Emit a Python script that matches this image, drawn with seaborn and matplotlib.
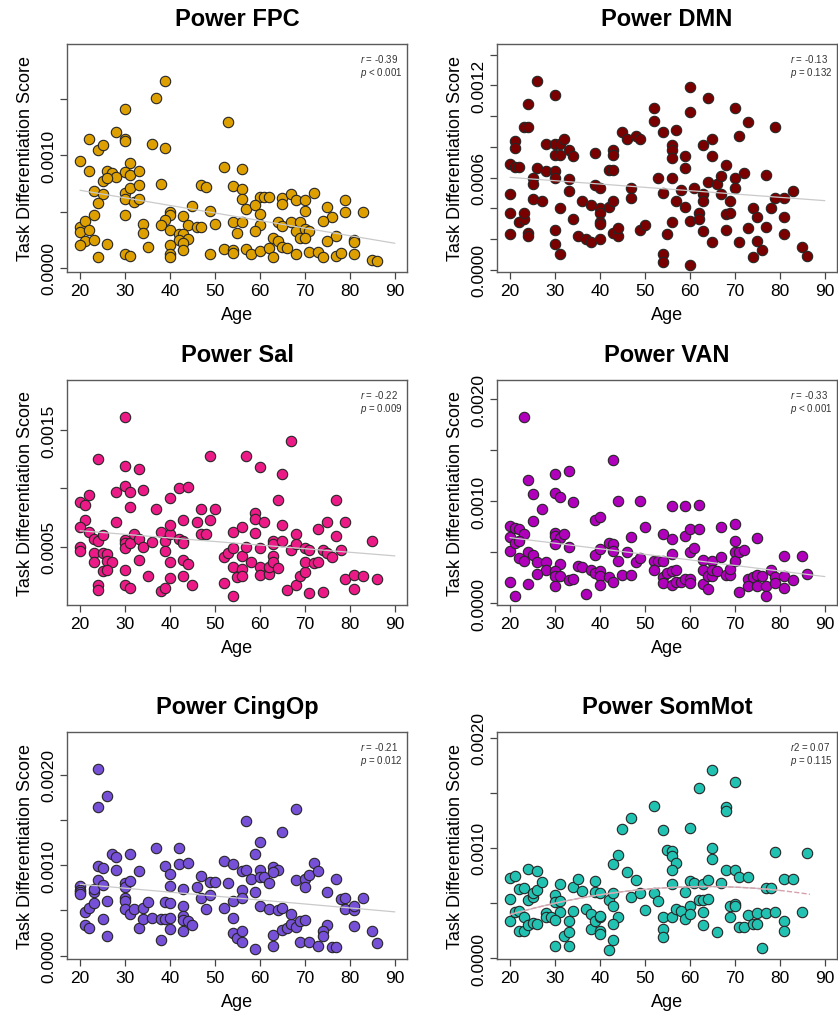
import numpy as np
import matplotlib
matplotlib.use('Agg')
import matplotlib.pyplot as plt
import seaborn as sns

sns.set_style('ticks')
plt.rcParams['font.family'] = ['Liberation Sans', 'DejaVu Sans']
plt.rcParams['mathtext.fontset'] = 'custom'
plt.rcParams['mathtext.it'] = 'Liberation Sans:italic'
plt.rcParams['mathtext.rm'] = 'Liberation Sans'
plt.rcParams['text.color'] = 'black'
plt.rcParams['axes.labelcolor'] = 'black'
plt.rcParams['xtick.labelcolor'] = 'black'
plt.rcParams['ytick.labelcolor'] = 'black'

##################################################################
# (age, task differentiation score)
fpc = [(20, 0.00095), (22, 0.00115), (22, 0.00086), (24, 0.00105), (25, 0.00109), (30, 0.00141),
       (30, 0.00115), (30, 0.00113), (28, 0.00121), (37, 0.00151), (39, 0.00166), (36, 0.00110),
       (39, 0.00107), (53, 0.00130), (31, 0.00093), (30, 0.00085), (31, 0.00083), (33, 0.00086),
       (26, 0.00086), (27, 0.00084), (28, 0.00081), (25, 0.00077), (26, 0.00080), (23, 0.00068),
       (25, 0.00066), (24, 0.00058), (23, 0.00047), (30, 0.00067), (31, 0.00071), (33, 0.00074),
       (30, 0.00061), (32, 0.00059), (33, 0.00061), (30, 0.00047), (38, 0.00075), (52, 0.00090),
       (56, 0.00088), (47, 0.00074), (48, 0.00072), (54, 0.00073), (56, 0.00070), (56, 0.00061),
       (57, 0.00052), (60, 0.00063), (61, 0.00063), (62, 0.00063), (59, 0.00056), (60, 0.00048),
       (65, 0.00062), (65, 0.00057), (67, 0.00066), (68, 0.00060), (70, 0.00060), (72, 0.00067),
       (70, 0.00051), (75, 0.00054), (76, 0.00045), (74, 0.00042), (79, 0.00060), (79, 0.00050),
       (83, 0.00050), (45, 0.00055), (49, 0.00051), (40, 0.00050), (40, 0.00047), (39, 0.00043),
       (38, 0.00038), (43, 0.00046), (44, 0.00038), (46, 0.00036), (47, 0.00036), (50, 0.00039),
       (40, 0.00034), (34, 0.00039), (34, 0.00031), (42, 0.00030), (43, 0.00030), (42, 0.00025),
       (44, 0.00026), (43, 0.00022), (43, 0.00016), (40, 0.00020), (40, 0.00012), (40, 0.00010),
       (54, 0.00041), (56, 0.00041), (55, 0.00031), (60, 0.00038), (59, 0.00033), (64, 0.00041),
       (65, 0.00037), (67, 0.00041), (69, 0.00041), (68, 0.00033), (70, 0.00035), (71, 0.00033),
       (69, 0.00027), (70, 0.00027), (63, 0.00027), (64, 0.00024), (77, 0.00028), (75, 0.00024),
       (81, 0.00025), (81, 0.00023), (20, 0.00036), (20, 0.00032), (21, 0.00042), (22, 0.00034),
       (21, 0.00024), (20, 0.00020), (23, 0.00025), (26, 0.00021), (24, 0.00010), (30, 0.00012),
       (31, 0.00011), (35, 0.00019), (49, 0.00012), (52, 0.00017), (54, 0.00016), (54, 0.00013),
       (57, 0.00017), (58, 0.00012), (60, 0.00015), (62, 0.00018), (63, 0.00010), (65, 0.00019),
       (66, 0.00018), (68, 0.00012), (71, 0.00014), (73, 0.00014), (74, 0.00010), (77, 0.00011),
       (78, 0.00013), (81, 0.00012), (85, 0.00007), (86, 0.00006)]

dmn = [(20, 0.00069), (20, 0.00049), (20, 0.00037), (20, 0.00023), (21, 0.00084), (21, 0.00079),
       (21, 0.00067), (22, 0.00067), (22, 0.00031), (23, 0.00033), (23, 0.00037), (24, 0.00108),
       (23, 0.00093), (24, 0.00093), (24, 0.00024), (24, 0.00022), (25, 0.00060), (25, 0.00056),
       (25, 0.00046), (26, 0.00123), (26, 0.00066), (27, 0.00045), (28, 0.00082), (28, 0.00064),
       (30, 0.00114), (30, 0.00082), (30, 0.00075), (30, 0.00064), (30, 0.00060), (30, 0.00026),
       (30, 0.00017), (31, 0.00082), (31, 0.00075), (31, 0.00040), (31, 0.00010), (32, 0.00085),
       (33, 0.00078), (34, 0.00074), (33, 0.00059), (33, 0.00051), (34, 0.00033), (35, 0.00022),
       (36, 0.00045), (37, 0.00020), (38, 0.00018), (38, 0.00042), (39, 0.00076), (39, 0.00055),
       (40, 0.00053), (40, 0.00040), (40, 0.00037), (40, 0.00031), (40, 0.00030), (40, 0.00020),
       (42, 0.00041), (43, 0.00045), (42, 0.00065), (43, 0.00065), (43, 0.00078), (43, 0.00075),
       (43, 0.00024), (44, 0.00022), (44, 0.00027), (45, 0.00090), (46, 0.00085), (48, 0.00087),
       (49, 0.00085), (47, 0.00053), (47, 0.00047), (49, 0.00026), (50, 0.00029), (52, 0.00105),
       (52, 0.00097), (53, 0.00060), (54, 0.00090), (54, 0.00050), (54, 0.00010), (54, 0.00005),
       (55, 0.00023), (56, 0.00081), (56, 0.00078), (56, 0.00073), (56, 0.00060), (56, 0.00031),
       (57, 0.00091), (57, 0.00045), (58, 0.00052), (59, 0.00074), (59, 0.00066), (59, 0.00041),
       (60, 0.00119), (60, 0.00103), (60, 0.00032), (60, 0.00003), (61, 0.00053), (62, 0.00037),
       (62, 0.00033), (63, 0.00081), (63, 0.00049), (63, 0.00045), (63, 0.00025), (64, 0.00112),
       (64, 0.00057), (65, 0.00085), (65, 0.00074), (65, 0.00018), (66, 0.00056), (67, 0.00061),
       (67, 0.00049), (68, 0.00068), (68, 0.00036), (68, 0.00026), (69, 0.00037), (69, 0.00045),
       (70, 0.00105), (70, 0.00060), (70, 0.00053), (71, 0.00087), (71, 0.00018), (72, 0.00063),
       (73, 0.00096), (73, 0.00027), (74, 0.00040), (75, 0.00034), (74, 0.00008), (75, 0.00019),
       (76, 0.00013), (77, 0.00062), (77, 0.00028), (78, 0.00040), (79, 0.00093), (79, 0.00047),
       (81, 0.00047), (81, 0.00034), (81, 0.00023), (83, 0.00051), (85, 0.00015), (86, 0.00009)]

sal = [(20, 0.00088), (21, 0.00086), (22, 0.00094), (21, 0.00073), (20, 0.00067), (20, 0.00050),
       (20, 0.00046), (22, 0.00063), (23, 0.00057), (24, 0.00055), (25, 0.00060), (23, 0.00045),
       (23, 0.00037), (24, 0.00125), (25, 0.00045), (26, 0.00044), (26, 0.00038), (27, 0.00037),
       (25, 0.00029), (26, 0.00030), (24, 0.00017), (24, 0.00013), (28, 0.00097), (28, 0.00071),
       (30, 0.00161), (30, 0.00119), (30, 0.00102), (31, 0.00097), (33, 0.00117), (34, 0.00099),
       (31, 0.00084), (30, 0.00056), (30, 0.00053), (30, 0.00049), (31, 0.00053), (32, 0.00061),
       (33, 0.00057), (34, 0.00050), (36, 0.00054), (33, 0.00039), (30, 0.00030), (30, 0.00017),
       (31, 0.00015), (35, 0.00025), (37, 0.00082), (38, 0.00063), (39, 0.00055), (40, 0.00061),
       (39, 0.00046), (40, 0.00069), (40, 0.00092), (40, 0.00037), (40, 0.00023), (38, 0.00012),
       (39, 0.00015), (42, 0.00100), (44, 0.00101), (43, 0.00073), (42, 0.00057), (43, 0.00055),
       (43, 0.00053), (43, 0.00039), (44, 0.00035), (43, 0.00025), (45, 0.00017), (47, 0.00082),
       (46, 0.00071), (47, 0.00061), (48, 0.00061), (49, 0.00073), (50, 0.00082), (49, 0.00128),
       (52, 0.00041), (53, 0.00045), (54, 0.00049), (54, 0.00063), (52, 0.00019), (54, 0.00033),
       (54, 0.00008), (55, 0.00024), (56, 0.00042), (56, 0.00067), (56, 0.00031), (56, 0.00025),
       (57, 0.00050), (57, 0.00128), (58, 0.00037), (59, 0.00079), (59, 0.00074), (59, 0.00062),
       (60, 0.00118), (61, 0.00071), (60, 0.00049), (60, 0.00033), (60, 0.00026), (62, 0.00027),
       (62, 0.00033), (63, 0.00055), (63, 0.00052), (63, 0.00042), (63, 0.00037), (64, 0.00032),
       (64, 0.00090), (65, 0.00112), (65, 0.00069), (65, 0.00055), (66, 0.00013), (67, 0.00141),
       (67, 0.00047), (68, 0.00061), (68, 0.00052), (68, 0.00017), (69, 0.00025), (70, 0.00028),
       (70, 0.00049), (71, 0.00047), (70, 0.00037), (72, 0.00036), (73, 0.00037), (71, 0.00010),
       (73, 0.00065), (74, 0.00047), (75, 0.00045), (76, 0.00041), (75, 0.00071), (77, 0.00090),
       (77, 0.00059), (78, 0.00047), (74, 0.00011), (79, 0.00071), (79, 0.00022), (81, 0.00026),
       (81, 0.00014), (83, 0.00025), (85, 0.00055), (86, 0.00022)]

van = [(20, 0.00076), (20, 0.00065), (20, 0.00051), (20, 0.00021), (21, 0.00007), (21, 0.00074),
       (22, 0.00073), (21, 0.00059), (23, 0.00068), (22, 0.00061), (23, 0.00183), (24, 0.00121),
       (25, 0.00107), (27, 0.00093), (25, 0.00081), (24, 0.00050), (25, 0.00047), (22, 0.00044),
       (23, 0.00042), (26, 0.00041), (28, 0.00041), (28, 0.00033), (26, 0.00029), (24, 0.00019),
       (30, 0.00127), (30, 0.00108), (31, 0.00104), (33, 0.00130), (34, 0.00099), (30, 0.00069),
       (30, 0.00066), (31, 0.00064), (32, 0.00068), (30, 0.00058), (33, 0.00055), (31, 0.00039),
       (30, 0.00032), (30, 0.00027), (31, 0.00027), (33, 0.00023), (34, 0.00024), (30, 0.00017),
       (35, 0.00037), (36, 0.00036), (38, 0.00033), (37, 0.00009), (39, 0.00082), (40, 0.00085),
       (39, 0.00047), (40, 0.00053), (39, 0.00030), (40, 0.00032), (40, 0.00027), (40, 0.00018),
       (42, 0.00059), (43, 0.00058), (43, 0.00141), (43, 0.00051), (44, 0.00100), (44, 0.00042),
       (42, 0.00026), (43, 0.00021), (45, 0.00028), (46, 0.00050), (47, 0.00065), (47, 0.00028),
       (48, 0.00041), (49, 0.00044), (49, 0.00100), (50, 0.00075), (52, 0.00042), (53, 0.00042),
       (54, 0.00042), (52, 0.00033), (54, 0.00068), (54, 0.00026), (54, 0.00020), (55, 0.00030),
       (56, 0.00032), (56, 0.00095), (56, 0.00063), (56, 0.00048), (56, 0.00018), (57, 0.00021),
       (57, 0.00033), (58, 0.00021), (59, 0.00024), (60, 0.00024), (60, 0.00020), (59, 0.00095),
       (59, 0.00066), (60, 0.00073), (60, 0.00050), (61, 0.00054), (62, 0.00096), (62, 0.00073),
       (63, 0.00043), (63, 0.00033), (63, 0.00019), (64, 0.00014), (64, 0.00027), (65, 0.00027),
       (65, 0.00042), (65, 0.00033), (66, 0.00032), (67, 0.00075), (67, 0.00045), (68, 0.00028),
       (69, 0.00028), (69, 0.00034), (70, 0.00078), (70, 0.00061), (70, 0.00050), (70, 0.00042),
       (71, 0.00050), (72, 0.00052), (71, 0.00011), (73, 0.00024), (74, 0.00026), (75, 0.00028),
       (73, 0.00017), (75, 0.00064), (75, 0.00017), (77, 0.00017), (76, 0.00027), (77, 0.00007),
       (78, 0.00033), (79, 0.00026), (79, 0.00020), (81, 0.00046), (81, 0.00027), (81, 0.00015),
       (83, 0.00023), (85, 0.00046), (86, 0.00029)]

cingop = [(20, 0.00077), (20, 0.00073), (20, 0.00070), (20, 0.00068), (21, 0.00048), (21, 0.00034),
          (22, 0.00031), (22, 0.00053), (23, 0.00058), (23, 0.00070), (23, 0.00074), (24, 0.00083),
          (24, 0.00099), (25, 0.00097), (25, 0.00078), (25, 0.00040), (24, 0.00206), (24, 0.00164),
          (26, 0.00176), (26, 0.00060), (26, 0.00022), (27, 0.00112), (28, 0.00109), (28, 0.00095),
          (30, 0.00080), (30, 0.00076), (30, 0.00064), (30, 0.00060), (30, 0.00052), (31, 0.00082),
          (31, 0.00112), (31, 0.00046), (32, 0.00052), (33, 0.00093), (33, 0.00030), (34, 0.00053),
          (35, 0.00059), (34, 0.00041), (36, 0.00042), (37, 0.00119), (38, 0.00040), (39, 0.00040),
          (38, 0.00017), (39, 0.00099), (40, 0.00090), (40, 0.00077), (39, 0.00059), (40, 0.00058),
          (40, 0.00042), (40, 0.00029), (42, 0.00119), (42, 0.00101), (44, 0.00102), (43, 0.00074),
          (43, 0.00055), (43, 0.00044), (43, 0.00039), (44, 0.00038), (45, 0.00034), (43, 0.00027),
          (46, 0.00076), (47, 0.00088), (47, 0.00064), (48, 0.00052), (49, 0.00081), (50, 0.00081),
          (49, 0.00067), (52, 0.00105), (54, 0.00101), (53, 0.00080), (52, 0.00053), (54, 0.00060),
          (54, 0.00042), (54, 0.00025), (55, 0.00020), (56, 0.00027), (56, 0.00015), (57, 0.00149),
          (56, 0.00093), (57, 0.00095), (56, 0.00072), (56, 0.00064), (58, 0.00085), (59, 0.00112),
          (59, 0.00070), (59, 0.00007), (60, 0.00125), (60, 0.00095), (60, 0.00087), (61, 0.00087),
          (62, 0.00080), (60, 0.00055), (62, 0.00052), (63, 0.00098), (64, 0.00095), (63, 0.00092),
          (64, 0.00050), (65, 0.00137), (65, 0.00053), (63, 0.00023), (63, 0.00011), (65, 0.00028),
          (66, 0.00031), (67, 0.00035), (67, 0.00046), (68, 0.00162), (68, 0.00084), (68, 0.00032),
          (69, 0.00038), (70, 0.00039), (69, 0.00015), (71, 0.00015), (70, 0.00085), (71, 0.00089),
          (70, 0.00076), (72, 0.00102), (73, 0.00093), (73, 0.00011), (75, 0.00070), (75, 0.00034),
          (74, 0.00027), (74, 0.00022), (76, 0.00010), (77, 0.00010), (77, 0.00085), (78, 0.00063),
          (79, 0.00064), (79, 0.00052), (81, 0.00050), (81, 0.00055), (81, 0.00033), (83, 0.00064),
          (85, 0.00027), (86, 0.00014)]

sommot = [(20, 0.00073), (21, 0.00075), (20, 0.00054), (20, 0.00034), (21, 0.00042), (22, 0.00043),
          (22, 0.00063), (23, 0.00064), (23, 0.00037), (22, 0.00025), (23, 0.00025), (24, 0.00081),
          (26, 0.00079), (24, 0.00053), (25, 0.00056), (25, 0.00059), (26, 0.00062), (27, 0.00069),
          (24, 0.00030), (25, 0.00032), (26, 0.00031), (28, 0.00041), (28, 0.00037), (29, 0.00037),
          (30, 0.00057), (30, 0.00051), (31, 0.00052), (31, 0.00042), (30, 0.00035), (31, 0.00067),
          (30, 0.00011), (32, 0.00020), (33, 0.00024), (33, 0.00034), (33, 0.00011), (34, 0.00065),
          (35, 0.00072), (34, 0.00043), (36, 0.00061), (37, 0.00045), (38, 0.00040), (38, 0.00027),
          (40, 0.00025), (40, 0.00022), (39, 0.00070), (39, 0.00060), (40, 0.00059), (39, 0.00034),
          (40, 0.00037), (40, 0.00038), (42, 0.00008), (42, 0.00053), (43, 0.00059), (43, 0.00085),
          (44, 0.00094), (43, 0.00047), (44, 0.00037), (43, 0.00031), (43, 0.00017), (45, 0.00117),
          (46, 0.00078), (47, 0.00127), (47, 0.00056), (48, 0.00071), (49, 0.00059), (50, 0.00044),
          (52, 0.00138), (52, 0.00059), (53, 0.00052), (54, 0.00116), (54, 0.00037), (54, 0.00027),
          (54, 0.00019), (55, 0.00098), (56, 0.00097), (56, 0.00093), (57, 0.00086), (56, 0.00080),
          (56, 0.00067), (56, 0.00037), (57, 0.00045), (58, 0.00043), (59, 0.00060), (59, 0.00036),
          (60, 0.00118), (60, 0.00070), (61, 0.00068), (60, 0.00047), (60, 0.00040), (62, 0.00154),
          (62, 0.00053), (63, 0.00053), (64, 0.00054), (63, 0.00067), (64, 0.00071), (63, 0.00042),
          (63, 0.00030), (65, 0.00171), (65, 0.00100), (65, 0.00090), (66, 0.00024), (67, 0.00068),
          (68, 0.00137), (68, 0.00133), (68, 0.00080), (69, 0.00047), (70, 0.00049), (70, 0.00047),
          (69, 0.00037), (70, 0.00160), (70, 0.00080), (71, 0.00074), (71, 0.00028), (72, 0.00028),
          (73, 0.00074), (73, 0.00039), (74, 0.00031), (75, 0.00031), (75, 0.00041), (76, 0.00009),
          (77, 0.00064), (78, 0.00064), (77, 0.00041), (79, 0.00042), (79, 0.00096), (81, 0.00072),
          (83, 0.00072), (81, 0.00034), (81, 0.00025), (85, 0.00042), (86, 0.00095)]

titles = ['Power FPC', 'Power DMN', 'Power Sal', 'Power VAN', 'Power CingOp', 'Power SomMot']
colors = ['#DDA000', '#7A0000', '#EC1A86', '#B000BC', '#7750D8', '#22C2B2']
stats = [('$r$ = -0.39', '$p$ < 0.001'), ('$r$ = -0.13', '$p$ = 0.132'),
         ('$r$ = -0.22', '$p$ = 0.009'), ('$r$ = -0.33', '$p$ < 0.001'),
         ('$r$ = -0.21', '$p$ = 0.012'), ('$r2$ = 0.07', '$p$ = 0.115')]
yticks = [[0, 0.0005, 0.0010, 0.0015],
          [0, 0.0002, 0.0004, 0.0006, 0.0008, 0.0010, 0.0012, 0.0014],
          [0.0005, 0.0010, 0.0015],
          [0, 0.0005, 0.0010, 0.0015, 0.0020],
          [0, 0.0005, 0.0010, 0.0015, 0.0020],
          [0, 0.0005, 0.0010, 0.0015, 0.0020]]
ylabels = [['0.0000', '', '0.0010', ''],
           ['0.0000', '', '', '0.0006', '', '', '0.0012', ''],
           ['0.0005', '', '0.0015'],
           ['0.0000', '', '0.0010', '', '0.0020'],
           ['0.0000', '', '0.0010', '', '0.0020'],
           ['0.0000', '', '0.0010', '', '0.0020']]
ylims = [(-0.000036, 0.00199), (-0.000015, 0.00147), (0.0, 0.00193),
         (-0.000016, 0.00219), (-0.000037, 0.00247), (-0.000006, 0.00205)]
xticks = [20, 30, 40, 50, 60, 70, 80, 90]
############################################################################

W, H = 838., 1020.
fig = plt.figure(figsize=(W/100, H/100), dpi=100)
boxes = [(67, 45, 228), (497, 45, 228), (67, 381, 225), (497, 381, 225), (67, 733, 227), (497, 733, 227)]

for i, data in enumerate([fpc, dmn, sal, van, cingop, sommot]):
    left, top, h = boxes[i]
    ax = fig.add_axes([left/W, 1 - (top + h)/H, 340/W, h/H])
    age = np.array([d[0] for d in data], dtype=float)
    score = np.array([d[1] for d in data])

    sns.scatterplot(x=age, y=score, ax=ax, color=colors[i], edgecolor='#262626',
                    linewidth=0.8, s=56, zorder=3)

    if i < 5:
        coef = np.polyfit(age, score, 1)
        xx = np.linspace(20, 90, 50)
        ax.plot(xx, np.polyval(coef, xx), color='#CACACA', lw=0.9, zorder=4)
    else:
        coef = np.polyfit(age, score, 2)
        xx = np.linspace(20, 80, 60)
        ax.plot(xx, np.polyval(coef, xx), color='#C4C4C4', lw=1.0, zorder=4)
        xx = np.linspace(20, age.max() + 0.7, 80)
        ax.plot(xx, np.polyval(coef, xx), '--', color='#D8A0AC', lw=1.0, zorder=4)

    ax.set_xlim(17.1, 92.7)
    ax.set_ylim(*ylims[i])
    ax.set_xticks(xticks)
    ax.set_yticks(yticks[i], ylabels[i])
    ax.tick_params(axis='both', labelsize=12.5, length=5, width=0.9, color='#444444', pad=3)
    for lab in ax.get_yticklabels():
        lab.set_rotation(90)
        lab.set_va('center')
    ax.set_xlabel('Age', fontsize=13, labelpad=6)
    ax.set_ylabel('Task Differentiation Score', fontsize=13, labelpad=5)
    ax.set_title(titles[i], fontsize=17, fontweight='bold', pad=14, color='black')
    for sp in ax.spines.values():
        sp.set_visible(True)
        sp.set_color('#5A5A5A')
        sp.set_linewidth(1.0)
    ax.text(0.862, 0.965, stats[i][0] + '\n' + stats[i][1], transform=ax.transAxes,
            fontsize=7, color='#333333', ha='left', va='top', linespacing=1.15)

fig.savefig('out.png', dpi=100)
